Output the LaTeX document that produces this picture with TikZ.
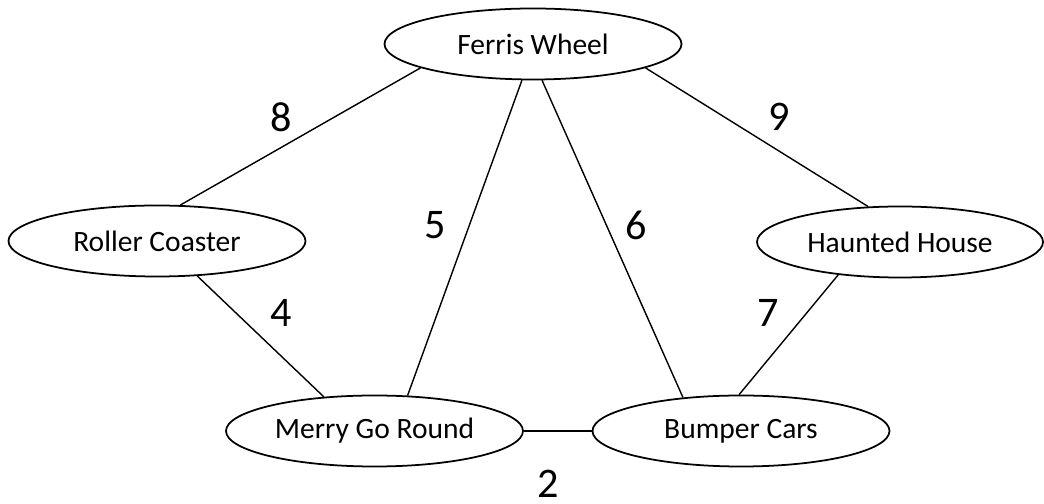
\documentclass[tikz,border=0pt]{standalone}
\usepackage{fontspec}
\setmainfont{Carlito}
\usetikzlibrary{shapes}

\begin{document}
\begin{tikzpicture} [ride/.style= {shape=ellipse,minimum width=5.94cm,minimum height=1.42cm,draw,inner sep=0,line width=1pt,font=\fontsize{16.8}{20}\selectfont},
  weight/.style= {font=\fontsize{24}{28}\selectfont,inner sep=0},
  path/.style= {line width=0.8pt}]
  \useasboundingbox (0,0) rectangle (20.88,10.08);
  % Rides
  {\node[ride] (ferris)  at (10.66,9.20) {Ferris Wheel};}
  {\node[ride] (roller)  at (3.14,5.26)  {Roller Coaster};}
  {\node[ride] [minimum width=5.72cm] (haunted) at (18.00,5.24) {Haunted House};}
  {\node[ride] (merry)   at (7.49,1.46)  {Merry Go Round};}
  {\node[ride] (bumper)  at (14.82,1.46) {Bumper Cars};}
  % Paths
  \draw[path] (ferris.192) -- (roller.57);
  \draw[path] (ferris.253) -- (merry.47);
  \draw[path] (ferris.284) -- (bumper.150);
  \draw[path] (ferris.348) -- (haunted.132);
  \draw[path] (roller.319) -- (merry.146);
  \draw[path] (haunted.208) -- (bumper.93);
  \draw[path] (merry.east) -- (bumper.west);
  % Weights
  {\node[weight] (w8) at (5.62,7.74)  {8};}
  {\node[weight] (w5) at (8.70,5.58)  {5};}
  {\node[weight] (w6) at (12.72,5.58) {6};}
  {\node[weight] (w9) at (15.58,7.74) {9};}
  {\node[weight] (w4) at (5.62,3.82)  {4};}
  {\node[weight] (w7) at (15.36,3.82) {7};}
  {\node[weight] (w2) at (10.96,0.40) {2};}
\end{tikzpicture}
\end{document}
